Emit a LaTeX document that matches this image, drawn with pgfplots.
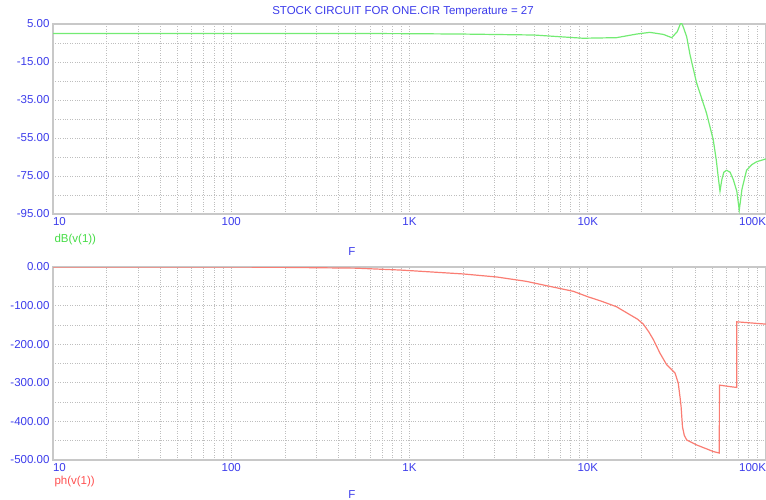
\documentclass[border=0pt]{standalone}
\usepackage{pgfplots}
\pgfplotsset{compat=1.18}
\usepackage{fontspec}
\setmainfont{Liberation Sans}
\definecolor{tickblue}{RGB}{60,60,235}
\definecolor{dbgreen}{RGB}{115,235,115}
\definecolor{labgreen}{RGB}{70,220,70}
\definecolor{phred}{RGB}{250,125,115}
\definecolor{labred}{RGB}{255,80,80}
\definecolor{gridgray}{RGB}{190,190,190}
\definecolor{boxgray}{RGB}{200,200,200}
\begin{document}
\begin{tikzpicture}[x=1pt,y=1pt]
\useasboundingbox (0,0) rectangle (766,500);
\node[text=tickblue, font=\fontsize{11.5}{13}\selectfont] at (403,488) {STOCK CIRCUIT FOR ONE.CIR Temperature = 27};
\begin{axis}[at={(53pt,286pt)}, anchor=south west, height=190pt,
    scale only axis, width=713pt,
    xmode=log, xmin=10, xmax=100000,
    xtick={10,100,1000,10000,100000},
    xticklabels={{\makebox[0pt][l]{10}},100,1K,10K,{\makebox[0pt][r]{100K}}},
    grid=both,
    major grid style={gridgray, dotted, line width=0.7pt},
    minor grid style={gridgray, dotted, line width=0.7pt},
    axis line style={boxgray, line width=1.6pt},
    major tick length=0pt, minor tick length=0pt,
    minor y tick num=1,
    /pgf/number format/assume math mode=true,
    tick label style={font=\fontsize{11.5}{13}\selectfont, text=tickblue},
    yticklabel={\pgfmathprintnumber[fixed,fixed zerofill,precision=2]{\tick}},
  ymin=-95, ymax=5, ytick={-95,-75,-55,-35,-15,5}]
\addplot[dbgreen, line width=1.2pt] coordinates {
(10,0) (100,0) (500,0) (1000,-0.1) (2000,-0.3) (5000,-0.8) (6000,-1.3) (9400,-2.5)
(14500,-2.2) (18800,-0.3) (22300,0.6) (26600,-0.5) (29600,-2.2) (31800,1) (33400,6)
(34300,3.6) (35900,-1.7) (37500,-11.3) (40800,-26) (46400,-42) (50600,-56) (52600,-66.5)
(54000,-75.8) (55200,-83) (56500,-77) (58000,-73) (60100,-72) (62900,-73) (65600,-77)
(68600,-83) (70800,-93) (73300,-82) (77800,-72) (83300,-69) (88600,-67.5) (100000,-66)
};
\end{axis}
\node[text=labgreen, font=\fontsize{11.5}{13}\selectfont, anchor=west] at (51,260) {dB(v(1))};
\node[text=tickblue, font=\fontsize{11.5}{13}\selectfont] at (352,248) {F};
\begin{axis}[at={(53pt,40pt)}, anchor=south west, height=193pt,
    scale only axis, width=713pt,
    xmode=log, xmin=10, xmax=100000,
    xtick={10,100,1000,10000,100000},
    xticklabels={{\makebox[0pt][l]{10}},100,1K,10K,{\makebox[0pt][r]{100K}}},
    grid=both,
    major grid style={gridgray, dotted, line width=0.7pt},
    minor grid style={gridgray, dotted, line width=0.7pt},
    axis line style={boxgray, line width=1.6pt},
    major tick length=0pt, minor tick length=0pt,
    minor y tick num=1,
    /pgf/number format/assume math mode=true,
    tick label style={font=\fontsize{11.5}{13}\selectfont, text=tickblue},
    yticklabel={\pgfmathprintnumber[fixed,fixed zerofill,precision=2]{\tick}},
  ymin=-500, ymax=0, ytick={-500,-400,-300,-200,-100,0}]
\addplot[phred, line width=1.2pt] coordinates {
(10,0) (100,0) (200,-1) (500,-3) (900,-8) (2000,-18) (3100,-26) (4500,-37) (6100,-50) (8300,-63)
(10000,-77) (12000,-89) (14500,-103) (17300,-124) (19000,-135) (20500,-148) (22000,-168) (23400,-189) (25400,-223) (27700,-253)
(30900,-275) (32200,-301) (33000,-340) (33400,-362) (34000,-414) (34800,-436) (35900,-448) (40800,-461) (50600,-478)
(54700,-482) (54800,-306) (62900,-310) (68500,-312) (68600,-142) (100000,-148)
};
\end{axis}
\node[text=labred, font=\fontsize{11.5}{13}\selectfont, anchor=west] at (51,18) {ph(v(1))};
\node[text=tickblue, font=\fontsize{11.5}{13}\selectfont] at (352,5) {F};
\end{tikzpicture}
\end{document}
